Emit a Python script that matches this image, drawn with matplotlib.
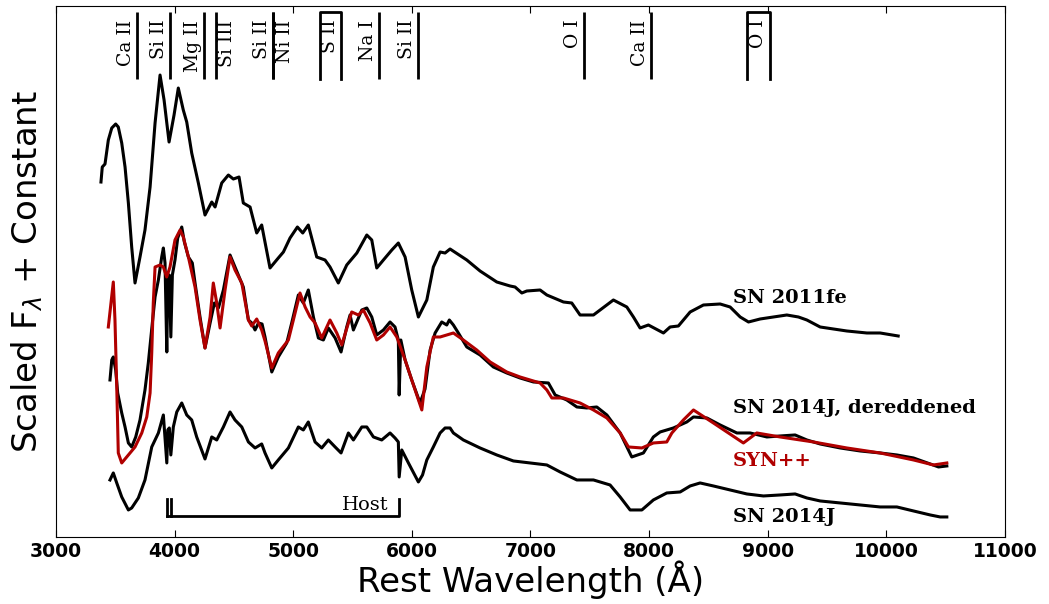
"""SN 2011fe / SN 2014J spectra with SYN++ fit and line identifications."""

import matplotlib
matplotlib.use("Agg")
import matplotlib.pyplot as plt
import matplotlib.transforms as mtransforms
import numpy as np

RED = "#b00000"

# SN 2011fe (top spectrum)
fe_wave = [3379, 3390, 3413, 3441, 3470, 3503, 3525, 3554, 3582, 3610, 3638, 3666,
           3708, 3750, 3793, 3835, 3877, 3911, 3953, 3995, 4031, 4073, 4102, 4144,
           4200, 4256, 4313, 4341, 4397, 4453, 4495, 4543, 4579, 4636, 4692, 4734,
           4804, 4874, 4917, 4973, 5035, 5080, 5127, 5198, 5268, 5310, 5380, 5451,
           5536, 5620, 5662, 5704, 5760, 5831, 5886, 5943, 5999, 6055, 6126, 6181,
           6238, 6280, 6322, 6463, 6575, 6716, 6828, 6870, 6927, 6969, 7081, 7138,
           7278, 7348, 7418, 7531, 7587, 7699, 7812, 7868, 7924, 7994, 8121, 8177,
           8247, 8346, 8458, 8599, 8683, 8768, 8838, 8936, 9048, 9161, 9259, 9330,
           9442, 9554, 9667, 9836, 9948, 10100]
fe_flux = [3.55, 3.70, 3.73, 3.97, 4.09, 4.13, 4.10, 3.94, 3.70, 3.34, 2.90, 2.54,
           2.80, 3.07, 3.50, 4.14, 4.62, 4.37, 3.95, 4.22, 4.49, 4.27, 4.15, 3.84,
           3.54, 3.22, 3.35, 3.30, 3.54, 3.62, 3.58, 3.60, 3.34, 3.30, 3.04, 3.12,
           2.69, 2.79, 2.85, 2.99, 3.10, 3.04, 3.12, 2.80, 2.77, 2.70, 2.54, 2.72,
           2.84, 3.02, 2.97, 2.69, 2.77, 2.87, 2.94, 2.80, 2.47, 2.20, 2.37, 2.70,
           2.85, 2.84, 2.88, 2.77, 2.66, 2.55, 2.51, 2.50, 2.44, 2.46, 2.47, 2.42,
           2.35, 2.34, 2.22, 2.22, 2.27, 2.37, 2.30, 2.20, 2.09, 2.12, 2.04, 2.10,
           2.11, 2.25, 2.32, 2.33, 2.30, 2.20, 2.15, 2.18, 2.20, 2.22, 2.20, 2.17,
           2.10, 2.08, 2.06, 2.04, 2.04, 2.01]

# SN 2014J, dereddened (middle spectrum)
dr_wave = [3455, 3470, 3483, 3503, 3520, 3554, 3582, 3610, 3638, 3672, 3708, 3750,
           3778, 3812, 3835, 3863, 3891, 3905, 3919, 3934, 3942, 3955, 3968, 3981,
           4003, 4026, 4060, 4082, 4116, 4149, 4172, 4214, 4256, 4299, 4335, 4369,
           4411, 4467, 4509, 4537, 4579, 4622, 4650, 4678, 4707, 4737, 4762, 4819,
           4874, 4945, 4987, 5043, 5085, 5127, 5170, 5212, 5254, 5296, 5353, 5403,
           5451, 5479, 5507, 5578, 5620, 5662, 5704, 5760, 5816, 5858, 5886, 5893,
           5907, 5943, 5999, 6069, 6111, 6154, 6196, 6252, 6294, 6316, 6350, 6392,
           6463, 6575, 6687, 6800, 6912, 7025, 7151, 7208, 7306, 7391, 7475, 7559,
           7644, 7756, 7854, 7952, 8036, 8093, 8205, 8318, 8374, 8487, 8599, 8740,
           8852, 8993, 9105, 9231, 9330, 9442, 9611, 9779, 9948, 10089, 10229, 10370,
           10440, 10510]
dr_flux = [1.57, 1.77, 1.80, 1.67, 1.44, 1.24, 1.10, 0.94, 0.90, 1.00, 1.17, 1.47,
           1.74, 2.14, 2.40, 2.57, 2.80, 2.89, 2.74, 1.85, 2.57, 2.62, 2.00, 2.62,
           2.77, 2.99, 3.10, 2.95, 2.80, 2.74, 2.54, 2.20, 1.89, 2.14, 2.34, 2.29,
           2.47, 2.82, 2.70, 2.62, 2.50, 2.17, 2.14, 2.07, 2.14, 2.13, 2.00, 1.65,
           1.80, 1.94, 2.14, 2.42, 2.34, 2.47, 2.20, 1.99, 1.97, 2.09, 1.99, 1.85,
           2.10, 2.22, 2.07, 2.27, 2.29, 2.20, 2.02, 2.07, 2.15, 2.10, 1.97, 1.42,
           1.97, 1.77, 1.57, 1.34, 1.48, 1.87, 2.04, 2.15, 2.12, 2.17, 2.12, 2.04,
           1.90, 1.82, 1.70, 1.64, 1.59, 1.55, 1.54, 1.42, 1.37, 1.30, 1.29, 1.30,
           1.22, 1.04, 0.80, 0.84, 1.00, 1.05, 1.09, 1.15, 1.20, 1.19, 1.12, 1.04,
           1.04, 1.00, 1.01, 1.02, 0.97, 0.93, 0.89, 0.86, 0.84, 0.82, 0.79, 0.73,
           0.70, 0.71]

# SYN++ model
syn_wave = [3441, 3483, 3497, 3512, 3525, 3554, 3610, 3666, 3723, 3765, 3793, 3807,
            3820, 3835, 3877, 3905, 3933, 3961, 4003, 4046, 4073, 4116, 4172, 4214,
            4256, 4299, 4326, 4355, 4383, 4425, 4467, 4509, 4566, 4622, 4650, 4692,
            4734, 4762, 4819, 4874, 4959, 5001, 5057, 5100, 5142, 5184, 5240, 5310,
            5367, 5409, 5493, 5549, 5591, 5648, 5704, 5760, 5816, 5873, 5943, 5999,
            6084, 6126, 6181, 6238, 6350, 6434, 6547, 6660, 6800, 6912, 7081, 7138,
            7180, 7278, 7418, 7531, 7644, 7756, 7826, 7939, 8036, 8149, 8192, 8289,
            8374, 8542, 8795, 8908, 9105, 9386, 9667, 9948, 10229, 10397, 10510]
syn_flux = [2.10, 2.55, 2.17, 1.50, 0.84, 0.74, 0.82, 0.90, 1.04, 1.20, 1.44, 1.84,
            2.34, 2.70, 2.72, 2.70, 2.60, 2.70, 2.97, 3.07, 3.00, 2.80, 2.50, 2.17,
            1.89, 2.20, 2.54, 2.34, 2.09, 2.47, 2.80, 2.67, 2.54, 2.17, 2.11, 2.18,
            2.07, 1.96, 1.69, 1.84, 1.97, 2.17, 2.44, 2.30, 2.20, 2.14, 1.99, 2.17,
            2.04, 1.92, 2.25, 2.22, 2.27, 2.14, 1.97, 2.02, 2.10, 2.00, 1.77, 1.57,
            1.27, 1.70, 2.00, 2.00, 2.04, 1.97, 1.87, 1.75, 1.65, 1.60, 1.54, 1.47,
            1.39, 1.39, 1.34, 1.27, 1.19, 1.04, 0.90, 0.89, 0.94, 0.95, 1.04, 1.17,
            1.27, 1.14, 0.94, 1.04, 1.00, 0.95, 0.89, 0.84, 0.77, 0.72, 0.74]

# SN 2014J, observed (bottom spectrum)
obs_wave = [3455, 3483, 3512, 3554, 3610, 3638, 3694, 3750, 3807, 3863, 3905, 3934,
            3942, 3955, 3968, 3989, 4018, 4060, 4102, 4144, 4186, 4256, 4313, 4355,
            4411, 4467, 4509, 4566, 4622, 4678, 4734, 4762, 4819, 4874, 4959, 5043,
            5085, 5127, 5184, 5240, 5296, 5353, 5403, 5465, 5507, 5578, 5620, 5676,
            5746, 5816, 5858, 5886, 5893, 5915, 5971, 6055, 6090, 6126, 6181, 6238,
            6280, 6322, 6350, 6434, 6575, 6716, 6856, 6997, 7138, 7250, 7391, 7531,
            7671, 7756, 7840, 7939, 8036, 8149, 8262, 8346, 8430, 8542, 8683, 8824,
            8964, 9105, 9231, 9330, 9442, 9611, 9779, 9948, 10089, 10229, 10370, 10454,
            10510]
obs_flux = [0.57, 0.64, 0.54, 0.40, 0.27, 0.29, 0.39, 0.57, 0.90, 1.04, 1.22, 0.74,
            1.07, 1.09, 0.82, 1.10, 1.25, 1.34, 1.22, 1.17, 1.00, 0.78, 1.00, 0.97,
            1.10, 1.25, 1.17, 1.10, 0.95, 0.89, 0.93, 0.84, 0.69, 0.77, 0.89, 1.10,
            1.07, 1.15, 0.95, 0.89, 0.97, 0.90, 0.84, 1.04, 0.97, 1.10, 1.10, 1.00,
            0.97, 1.04, 0.99, 0.95, 0.60, 0.87, 0.74, 0.55, 0.62, 0.77, 0.90, 1.04,
            1.09, 1.09, 1.04, 0.97, 0.89, 0.82, 0.76, 0.74, 0.72, 0.65, 0.57, 0.57,
            0.52, 0.40, 0.27, 0.27, 0.37, 0.44, 0.45, 0.51, 0.54, 0.51, 0.47, 0.43,
            0.41, 0.42, 0.43, 0.39, 0.36, 0.34, 0.32, 0.30, 0.30, 0.26, 0.22, 0.20,
            0.20]

# line identifications: (label, wavelength, side of the marker the label sits on)
line_ids = [
    ("Ca II", 3680, "left"),
    ("Si II", 3961, "left"),
    ("Mg II", 4251, "left"),
    ("Si III", 4349, "right"),
    ("Si II", 4833, "left"),
    ("Ni II", 4833, "right"),
    ("Na I", 5726, "left"),
    ("Si II", 6050, "left"),
    ("O I", 7455, "left"),
    ("Ca II", 8014, "left"),
]
bracket_ids = [("S II", 5226, 5400), ("O I", 8823, 9020)]
host_waves = [3934, 3968, 5893]

spec_labels = [
    ("SN 2011fe", 8709, 2.34, "black"),
    ("SN 2014J, dereddened", 8709, 1.24, "black"),
    ("SYN++", 8709, 0.71, RED),
    ("SN 2014J", 8709, 0.15, "black"),
]

fig = plt.figure(figsize=(10.49, 6.04), dpi=100)
ax = fig.add_axes([0.0534, 0.111, 0.9046, 0.879])

lw = 2.2
ax.plot(fe_wave, fe_flux, color="black", lw=lw)
ax.plot(dr_wave, dr_flux, color="black", lw=lw)
ax.plot(syn_wave, syn_flux, color=RED, lw=lw)
ax.plot(obs_wave, obs_flux, color="black", lw=lw)

trans = mtransforms.blended_transform_factory(ax.transData, ax.transAxes)
y_top, y_bot, y_txt = 0.989, 0.862, 0.974
for label, wave, side in line_ids:
    ax.plot([wave, wave], [y_bot, y_top], color="black", lw=2, transform=trans,
            solid_capstyle="butt")
    dx = -1.5 if side == "left" else 1.5
    ha = "right" if side == "left" else "left"
    ax.annotate(label, xy=(wave, y_txt), xycoords=trans, xytext=(dx, 0),
                textcoords="offset points", rotation=90, ha=ha, va="top",
                family="DejaVu Serif", fontsize=13.5)
for label, w0, w1 in bracket_ids:
    ax.plot([w0, w0, w1, w1], [y_bot, y_top, y_top, y_bot], color="black", lw=2,
            transform=trans)
    ax.text((w0 + w1) / 2, y_txt, label, transform=trans, rotation=90, ha="center",
            va="top", family="DejaVu Serif", fontsize=13.5)

# host galaxy absorption bracket
h_top, h_bot = 0.38, 0.21
ax.plot([host_waves[0], host_waves[0]], [h_top, h_bot], color="black", lw=2)
ax.plot([host_waves[1], host_waves[1]], [h_top, h_bot], color="black", lw=2)
ax.plot([host_waves[0], host_waves[2], host_waves[2]], [h_bot, h_bot, h_top],
        color="black", lw=2)
ax.text(5800, h_bot + 0.02, "Host", ha="right", va="bottom", family="DejaVu Serif",
        fontsize=14)

for label, x, y, color in spec_labels:
    ax.text(x, y, label, color=color, family="DejaVu Serif", fontweight="bold",
            fontsize=14, va="baseline", ha="left")

ax.set_xlim(3000, 11000)
ax.set_ylim(0, 5.31)
ax.set_xticks(np.arange(3000, 11001, 1000))
ax.set_yticks([])
ax.tick_params(axis="x", direction="in", top=True, length=5, labelsize=13.5)
for lab in ax.get_xticklabels():
    lab.set_fontweight("bold")
ax.set_xlabel("Rest Wavelength (\u00c5)", fontsize=24.5, labelpad=0)
ax.set_ylabel("Scaled F$_\\lambda$ + Constant", fontsize=24.5, labelpad=8)

fig.savefig("out.png", dpi=100)
